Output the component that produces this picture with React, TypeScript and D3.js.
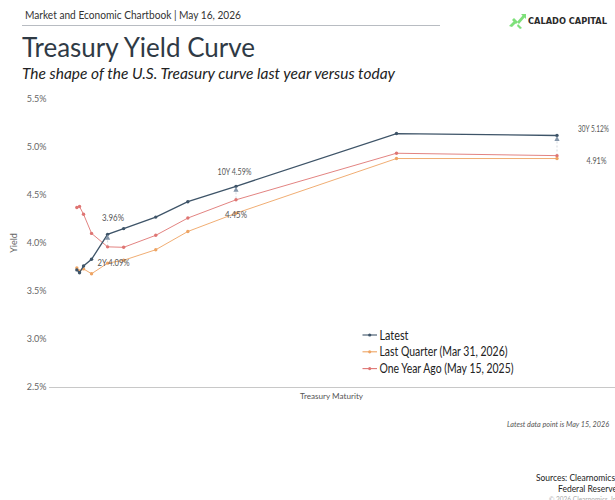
import React from 'react';
import * as d3 from 'd3';

const maturities = ['1M', '3M', '6M', '1Y', '2Y', '3Y', '5Y', '7Y', '10Y', '20Y', '30Y'];
const maturityYears = [1 / 12, 0.25, 0.5, 1, 2, 3, 5, 7, 10, 20, 30];

const latest = [3.72, 3.69, 3.76, 3.83, 4.09, 4.15, 4.27, 4.43, 4.59, 5.14, 5.12];
const lastQuarter = [3.74, 3.71, 3.73, 3.68, 3.79, 3.82, 3.93, 4.12, 4.31, 4.88, 4.88];
const oneYearAgo = [4.37, 4.38, 4.3, 4.1, 3.96, 3.955, 4.08, 4.26, 4.45, 4.935, 4.91];

const yTicks = [2.5, 3.0, 3.5, 4.0, 4.5, 5.0, 5.5];
const highlighted = ['2Y', '10Y', '30Y'];

const seriesList = [
  { name: 'Latest', values: latest, color: '#3e5468', width: 1.3, textLen: 29 },
  { name: 'Last Quarter (Mar 31, 2026)', values: lastQuarter, color: '#eea463', width: 0.9, textLen: 128 },
  { name: 'One Year Ago (May 15, 2025)', values: oneYearAgo, color: '#df7573', width: 0.9, textLen: 134 },
];

const FONT = 'Lato, "Noto Sans", sans-serif';

export default function App() {
  const W = 615;
  const H = 500;

  const x = d3.scaleLinear().domain([0, 30]).range([75.5, 557]);
  const y = d3.scaleLinear().domain([2.5, 5.5]).range([387, 99]);

  const line = d3
    .line<number>()
    .x((_, i) => x(maturityYears[i]))
    .y((d) => y(d));

  const idx = (m: string) => maturities.indexOf(m);
  const fit = { lengthAdjust: 'spacingAndGlyphs' as const };

  return (
    <svg
      width={W}
      height={H}
      style={{ position: 'absolute', left: 0, top: 0, background: '#fff' }}
      fontFamily={FONT}
    >
      {/* header */}
      <text x={25} y={18.5} fontSize={12} fill="#333" textLength={216} {...fit}>
        Market and Economic Chartbook | May 16, 2026
      </text>
      <line x1={22} x2={440} y1={25.5} y2={25.5} stroke="#b8bcc2" strokeWidth={1} />

      {/* logo */}
      <g transform="translate(509,14)" fill="#7ee07a">
        <path d="M0,12 L6,6 L8,8 L3,13 Z" />
        <path d="M5,4 L9,8 L7,10 L3,6 Z" />
        <path d="M8,8 L14,1 L16,3 L10,10 Z" />
        <path d="M9,10 L13,14 L11,15 L8,12 Z" />
        <path d="M12,0 L17,0 L17,5 Z" />
      </g>
      <text
        x={528}
        y={24}
        fontSize={8.2}
        fontWeight={700}
        fill="#2a2a2a"
        textLength={79}
        {...fit}
        fontFamily='"DejaVu Sans", sans-serif'
      >
        CALADO CAPITAL
      </text>

      {/* titles */}
      <text x={22} y={56.5} fontSize={27} fill="#2f3a45" textLength={233} {...fit}>
        Treasury Yield Curve
      </text>
      <text x={22} y={79} fontSize={15.5} fontStyle="italic" fill="#222" textLength={373} {...fit}>
        The shape of the U.S. Treasury curve last year versus today
      </text>

      {/* y axis */}
      {yTicks.map((t) => (
        <text key={t} x={46.5} y={y(t) + 3} fontSize={9} fill="#666" textAnchor="end">
          {t.toFixed(1)}%
        </text>
      ))}
      <text
        transform={`translate(16.5,${y(4.0)}) rotate(-90)`}
        fontSize={9}
        fill="#666"
        textAnchor="middle"
      >
        Yield
      </text>
      <line x1={49} x2={615} y1={387.5} y2={387.5} stroke="#c8c8c8" strokeWidth={1.2} />
      <text x={300} y={398.5} fontSize={8} fill="#555" textLength={63} {...fit}>
        Treasury Maturity
      </text>

      {/* dashed connectors latest -> one year ago */}
      {highlighted.map((m) => {
        const i = idx(m);
        return (
          <line
            key={m}
            x1={x(maturityYears[i])}
            x2={x(maturityYears[i])}
            y1={y(latest[i]) + 6}
            y2={y(oneYearAgo[i])}
            stroke="#c9ced6"
            strokeWidth={0.8}
            strokeDasharray="2,2"
          />
        );
      })}

      {/* series */}
      {[...seriesList].reverse().map((s) => (
        <g key={s.name}>
          <path d={line(s.values) || undefined} fill="none" stroke={s.color} strokeWidth={s.width} />
          {s.values.map((v, i) => (
            <circle key={i} cx={x(maturityYears[i])} cy={y(v)} r={1.7} fill={s.color} />
          ))}
        </g>
      ))}

      {/* triangle markers */}
      {highlighted.map((m) => {
        const i = idx(m);
        const cx = x(maturityYears[i]);
        const cy = y(latest[i]) + 3;
        return (
          <path
            key={m}
            d={`M${cx},${cy - 2.5} L${cx + 2.6},${cy + 2.5} L${cx - 2.6},${cy + 2.5} Z`}
            fill="#8496aa"
          />
        );
      })}

      {/* annotations */}
      <g fontSize={8.5} fill="#555">
        <text x={102} y={y(oneYearAgo[idx('2Y')]) - 25.5} textLength={22} {...fit}>
          3.96%
        </text>
        <text x={97.5} y={y(latest[idx('2Y')]) + 32} textLength={32} {...fit}>
          2Y 4.09%
        </text>
        <text x={217.5} y={y(latest[idx('10Y')]) - 11} textLength={34} {...fit}>
          10Y 4.59%
        </text>
        <text x={225} y={y(oneYearAgo[idx('10Y')]) + 18} textLength={22} {...fit}>
          4.45%
        </text>
        <text x={578} y={132} textLength={31} {...fit}>
          30Y 5.12%
        </text>
        <text x={586.5} y={y(oneYearAgo[idx('30Y')]) + 8} textLength={20} {...fit}>
          4.91%
        </text>
      </g>

      {/* legend */}
      {seriesList.map((s, i) => {
        const ly = 335 + i * 16.8;
        return (
          <g key={s.name}>
            <line x1={362.5} x2={377} y1={ly} y2={ly} stroke={s.color} strokeWidth={1.1} />
            <circle cx={369.7} cy={ly} r={1.6} fill={s.color} />
            <text x={379.5} y={ly + 4.5} fontSize={12.5} fill="#222" textLength={s.textLen} {...fit}>
              {s.name}
            </text>
          </g>
        );
      })}

      {/* footer */}
      <text x={507} y={427} fontSize={7} fontStyle="italic" fill="#555" textLength={102} {...fit}>
        Latest data point is May 15, 2026
      </text>
      <text x={536} y={481} fontSize={9.5} fill="#222" textLength={81} {...fit}>
        Sources: Clearnomics,
      </text>
      <text x={558} y={492} fontSize={9.5} fill="#222" textLength={59} {...fit}>
        Federal Reserve
      </text>
      <text x={549} y={502} fontSize={7} fill="#aaa" textLength={72} {...fit}>
        © 2026 Clearnomics, Inc.
      </text>
    </svg>
  );
}
